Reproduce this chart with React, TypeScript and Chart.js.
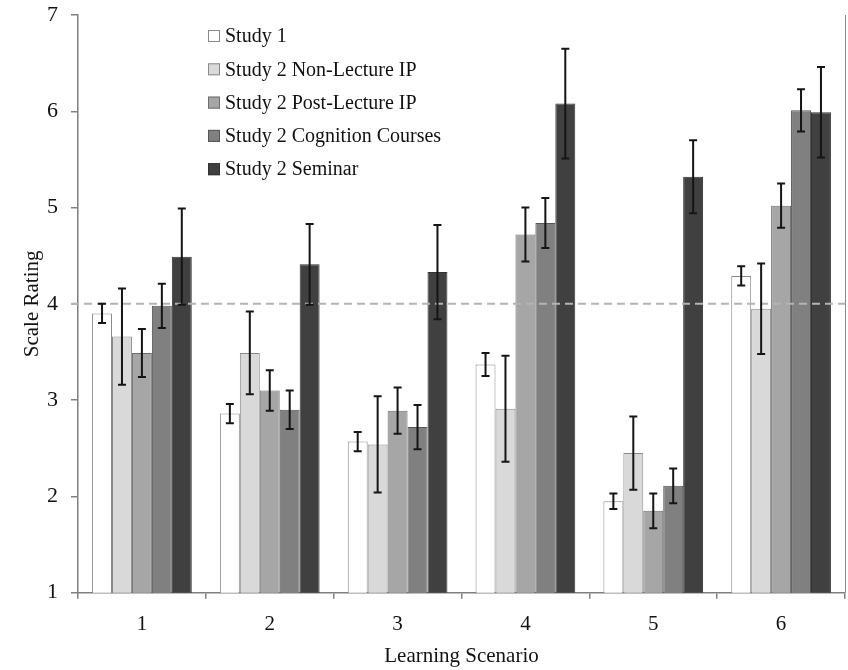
import React, { useEffect, useRef } from "react";
import { Chart, registerables } from "chart.js";

Chart.register(...registerables);

// ---- data ----
const categories = ["1", "2", "3", "4", "5", "6"];
const seriesNames = [
  "Study 1",
  "Study 2 Non-Lecture IP",
  "Study 2 Post-Lecture IP",
  "Study 2 Cognition Courses",
  "Study 2 Seminar",
];
const study1 = [3.9, 2.86, 2.57, 3.37, 1.95, 4.29];
const study1Err = [0.1, 0.1, 0.1, 0.12, 0.08, 0.1];
const nonLecture = [3.66, 3.49, 2.54, 2.91, 2.45, 3.95];
const nonLectureErr = [0.5, 0.43, 0.5, 0.55, 0.38, 0.47];
const postLecture = [3.49, 3.1, 2.89, 4.72, 1.85, 5.02];
const postLectureErr = [0.25, 0.21, 0.24, 0.28, 0.18, 0.23];
const cognition = [3.98, 2.9, 2.72, 4.84, 2.11, 6.01];
const cognitionErr = [0.23, 0.2, 0.23, 0.26, 0.18, 0.22];
const seminar = [4.49, 4.41, 4.33, 6.08, 5.32, 5.99];
const seminarErr = [0.5, 0.42, 0.49, 0.57, 0.38, 0.47];
const yMin = 1;
const yMax = 7;
const referenceValue = 4;
const xTitle = "Learning Scenario";
const yTitle = "Scale Rating";

const fills = ["#ffffff", "#d9d9d9", "#a6a6a6", "#808080", "#404040"];
const borders = ["#8a8a8a", "#8a8a8a", "#6e6e6e", "#555555", "#333333"];

const SERIF = '"Liberation Serif", "Times New Roman", serif';

export default function App() {
  const ref = useRef<HTMLCanvasElement | null>(null);

  useEffect(() => {
    document.body.style.margin = "0";
    const canvas = ref.current;
    if (!canvas) return;

    const values = [study1, nonLecture, postLecture, cognition, seminar];
    const errors = [study1Err, nonLectureErr, postLectureErr, cognitionErr, seminarErr];

    const overlay = {
      id: "overlay",
      afterDatasetsDraw(chart: any) {
        const { ctx, chartArea } = chart;
        const ys = chart.scales.y;
        ctx.save();
        // reference dashed line
        const yRef = ys.getPixelForValue(referenceValue);
        ctx.strokeStyle = "#b4b4b4";
        ctx.lineWidth = 2;
        ctx.setLineDash([8, 5]);
        ctx.beginPath();
        ctx.moveTo(chartArea.left - 7, yRef);
        ctx.lineTo(chartArea.right, yRef);
        ctx.stroke();
        ctx.setLineDash([]);
        // right frame line
        ctx.strokeStyle = "#8a8a8a";
        ctx.lineWidth = 1;
        ctx.beginPath();
        ctx.moveTo(Math.round(chartArea.right) + 0.5, chartArea.top);
        ctx.lineTo(Math.round(chartArea.right) + 0.5, chartArea.bottom);
        ctx.stroke();
        // error bars
        ctx.strokeStyle = "#151515";
        ctx.lineWidth = 2;
        values.forEach((series, di) => {
          const meta = chart.getDatasetMeta(di);
          series.forEach((v, i) => {
            const el = meta.data[i];
            if (!el) return;
            const x = el.x;
            const top = ys.getPixelForValue(v + errors[di][i]);
            const bot = ys.getPixelForValue(v - errors[di][i]);
            ctx.beginPath();
            ctx.moveTo(x, top);
            ctx.lineTo(x, bot);
            ctx.moveTo(x - 4, top);
            ctx.lineTo(x + 4, top);
            ctx.moveTo(x - 4, bot);
            ctx.lineTo(x + 4, bot);
            ctx.stroke();
          });
        });
        ctx.restore();
      },
      afterDraw(chart: any) {
        const { ctx } = chart;
        ctx.save();
        ctx.font = `20px ${SERIF}`;
        ctx.textBaseline = "middle";
        ctx.textAlign = "left";
        seriesNames.forEach((name, i) => {
          const cy = 36 + i * 33.3;
          ctx.fillStyle = fills[i];
          ctx.fillRect(208, cy - 6, 12, 12);
          ctx.strokeStyle = i === 0 ? "#8a8a8a" : borders[i];
          ctx.lineWidth = 1;
          ctx.strokeRect(208.5, cy - 5.5, 11, 11);
          ctx.fillStyle = "#111";
          ctx.fillText(name, 225, cy + 1);
        });
        ctx.restore();
      },
    };

    const chart = new Chart(canvas, {
      type: "bar",
      data: {
        labels: categories,
        datasets: values.map((d, i) => ({
          label: seriesNames[i],
          data: d,
          backgroundColor: fills[i],
          borderColor: borders[i],
          borderWidth: 1,
          categoryPercentage: 0.78,
          barPercentage: 1.0,
        })),
      },
      options: {
        responsive: false,
        animation: false,
        layout: { padding: { top: 15, right: 3, left: 0, bottom: 0 } },
        plugins: {
          legend: { display: false },
          tooltip: { enabled: false },
        },
        scales: {
          x: {
            grid: {
              offset: true,
              drawOnChartArea: false,
              drawTicks: true,
              tickLength: 6,
              color: "#7f7f7f",
              lineWidth: 1.5,
            },
            border: { display: true, color: "#7f7f7f", width: 1.5 },
            ticks: {
              font: { family: SERIF, size: 21 },
              color: "#111",
              padding: 13,
            },
            title: {
              display: true,
              text: xTitle,
              font: { family: SERIF, size: 21 },
              color: "#111",
              padding: { top: 0, bottom: 1 },
            },
            afterFit(scale: any) {
              scale.height = 77.3;
              scale.paddingLeft = 0;
              scale.paddingRight = 0;
            },
          },
          y: {
            min: yMin,
            max: yMax,
            ticks: {
              stepSize: 1,
              font: { family: SERIF, size: 22 },
              color: "#111",
              padding: 13,
            },
            grid: {
              drawOnChartArea: false,
              drawTicks: true,
              tickLength: 7,
              color: "#7f7f7f",
              lineWidth: 1.5,
            },
            border: { display: true, color: "#7f7f7f", width: 1.5 },
            title: {
              display: true,
              text: yTitle,
              font: { family: SERIF, size: 21 },
              color: "#111",
              padding: { top: 20, bottom: 0 },
            },
            afterFit(scale: any) {
              scale.width = 78;
              scale.paddingTop = 0;
              scale.paddingBottom = 0;
            },
          },
        },
      },
      plugins: [overlay],
    });

    return () => chart.destroy();
  }, []);

  return (
    <div style={{ width: 848, height: 670, position: "relative" }}>
      <canvas ref={ref} width={848} height={670} style={{ display: "block" }} />
    </div>
  );
}
